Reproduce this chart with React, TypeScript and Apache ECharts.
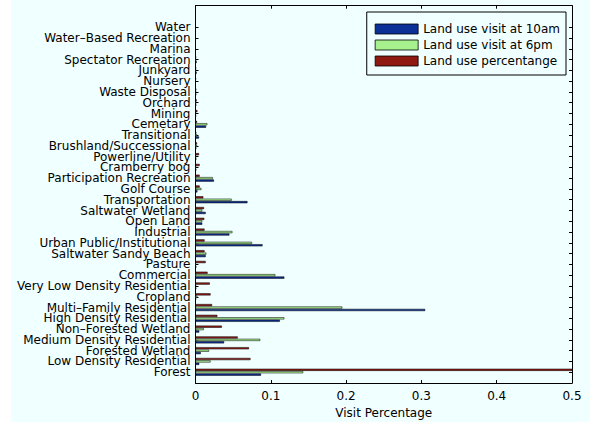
import React, { useEffect, useRef } from "react";
import * as echarts from "echarts";

// Categories listed bottom (index 1) to top (index 33)
const categories = [
  "Forest",
  "Low Density Residential",
  "Forested Wetland",
  "Medium Density Residential",
  "Non–Forested Wetland",
  "High Density Residential",
  "Multi–Family Residential",
  "Cropland",
  "Very Low Density Residential",
  "Commercial",
  "Pasture",
  "Saltwater Sandy Beach",
  "Urban Public/Institutional",
  "Industrial",
  "Open Land",
  "Saltwater Wetland",
  "Transportation",
  "Golf Course",
  "Participation Recreation",
  "Cramberry bog",
  "Powerline/Utility",
  "Brushland/Successional",
  "Transitional",
  "Cemetary",
  "Mining",
  "Orchard",
  "Waste Disposal",
  "Nursery",
  "Junkyard",
  "Spectator Recreation",
  "Marina",
  "Water–Based Recreation",
  "Water",
];

const visit10am = [
  0.087, 0.005, 0.007, 0.038, 0.005, 0.112, 0.305, 0.0005, 0.001, 0.118,
  0.001, 0.0135, 0.089, 0.045, 0.009, 0.0135, 0.069, 0.0025, 0.0245, 0.001,
  0.001, 0.001, 0.0047, 0.014, 0.0005, 0.001, 0.001, 0, 0.0015, 0.0015,
  0, 0, 0,
];

const visit6pm = [
  0.143, 0.02, 0.018, 0.086, 0.011, 0.118, 0.195, 0.0025, 0.0005, 0.106,
  0.001, 0.0144, 0.075, 0.049, 0.009, 0.009, 0.048, 0.0078, 0.023, 0.001,
  0.001, 0.002, 0.002, 0.0157, 0.0005, 0.001, 0.0005, 0, 0.001, 0.001,
  0, 0, 0,
];

const landUsePct = [
  0.55, 0.073, 0.071, 0.056, 0.035, 0.029, 0.022, 0.02, 0.019, 0.016,
  0.0135, 0.012, 0.012, 0.012, 0.0117, 0.0113, 0.0104, 0.0055, 0.0055, 0.0055,
  0.0047, 0.002, 0.001, 0.002, 0.0025, 0.0015, 0.001, 0.0005, 0.0005, 0.0005,
  0, 0, 0,
];

const xTicks = [0, 0.1, 0.2, 0.3, 0.4, 0.5];
const seriesNames = [
  "Land use visit at 10am",
  "Land use visit at 6pm",
  "Land use percentange",
];

const FONT = "'DejaVu Sans', 'Liberation Sans', Arial, sans-serif";
const BG = "#f0ffff";

export default function App() {
  const ref = useRef<HTMLDivElement>(null);
  useEffect(() => {
    document.body.style.margin = "0";
    const chart = echarts.init(ref.current!, null, { renderer: "svg" });
    // axis positions 0..35 ; categories at 1..33
    const axisCats = ["", ...categories, "", ""];
    const pad = (arr: number[]) => [null, ...arr, null, null];
    const tickInterval = (i: number) => i >= 1 && i <= 33;
    const mkSeries = (name: string, data: number[], color: string) => ({
      name,
      type: "bar",
      data: pad(data),
      barWidth: "20%",
      barGap: "12%",
      itemStyle: { color, borderColor: "#000", borderWidth: 0.5 },
    });
    chart.setOption({
      animation: false,
      backgroundColor: "#ffffff",
      textStyle: { fontFamily: FONT },
      graphic: [
        {
          type: "rect",
          left: 11,
          top: 0,
          shape: { width: 579, height: 422 },
          style: { fill: BG },
          z: -10,
          silent: true,
        },
      ],
      grid: { left: 195.5, right: 23, top: 5.7, bottom: 43, containLabel: false },
      legend: {
        orient: "vertical",
        right: 29,
        top: 12,
        data: seriesNames,
        icon: "rect",
        itemWidth: 43,
        itemHeight: 10,
        itemGap: 4,
        padding: [11, 6, 8, 8],
        borderColor: "#000",
        borderWidth: 1,
        backgroundColor: BG,
        itemStyle: { borderColor: "#000", borderWidth: 0.8 },
        textStyle: { fontSize: 12, color: "#000", fontFamily: FONT },
      },
      xAxis: [
        {
          type: "value",
          min: xTicks[0],
          max: xTicks[xTicks.length - 1],
          interval: 0.1,
          position: "bottom",
          name: "Visit Percentage",
          nameLocation: "middle",
          nameGap: 24,
          nameTextStyle: { fontSize: 12, color: "#000", fontFamily: FONT },
          axisLine: { show: true, lineStyle: { color: "#000", width: 1 } },
          axisTick: { show: true, inside: true, length: 3, lineStyle: { color: "#000" } },
          axisLabel: { fontSize: 12, color: "#000", margin: 7, fontFamily: FONT },
          splitLine: { show: false },
        },
        {
          type: "value",
          min: xTicks[0],
          max: xTicks[xTicks.length - 1],
          interval: 0.1,
          position: "top",
          axisLine: { show: true, lineStyle: { color: "#000", width: 1 } },
          axisTick: { show: true, inside: true, length: 3, lineStyle: { color: "#000" } },
          axisLabel: { show: false },
          splitLine: { show: false },
        },
      ],
      yAxis: [
        {
          type: "category",
          data: axisCats,
          boundaryGap: false,
          position: "left",
          axisLine: { show: true, onZero: false, lineStyle: { color: "#000", width: 1 } },
          axisTick: { show: true, inside: true, length: 3, interval: tickInterval, lineStyle: { color: "#000" } },
          axisLabel: { interval: 0, fontSize: 12, color: "#000", margin: 5, fontFamily: FONT },
          splitLine: { show: false },
        },
        {
          type: "category",
          data: axisCats,
          boundaryGap: false,
          position: "right",
          axisLine: { show: true, onZero: false, lineStyle: { color: "#000", width: 1 } },
          axisTick: { show: true, inside: true, length: 3, interval: tickInterval, lineStyle: { color: "#000" } },
          axisLabel: { show: false },
          splitLine: { show: false },
        },
      ],
      // red first so that it sits at the top of each group (MATLAB barh order)
      series: [
        mkSeries(seriesNames[2], landUsePct, "#8e1a12"),
        mkSeries(seriesNames[1], visit6pm, "#a6f08e"),
        mkSeries(seriesNames[0], visit10am, "#0a2f96"),
      ],
    });
    return () => chart.dispose();
  }, []);
  return <div ref={ref} style={{ width: 595, height: 426 }} />;
}
